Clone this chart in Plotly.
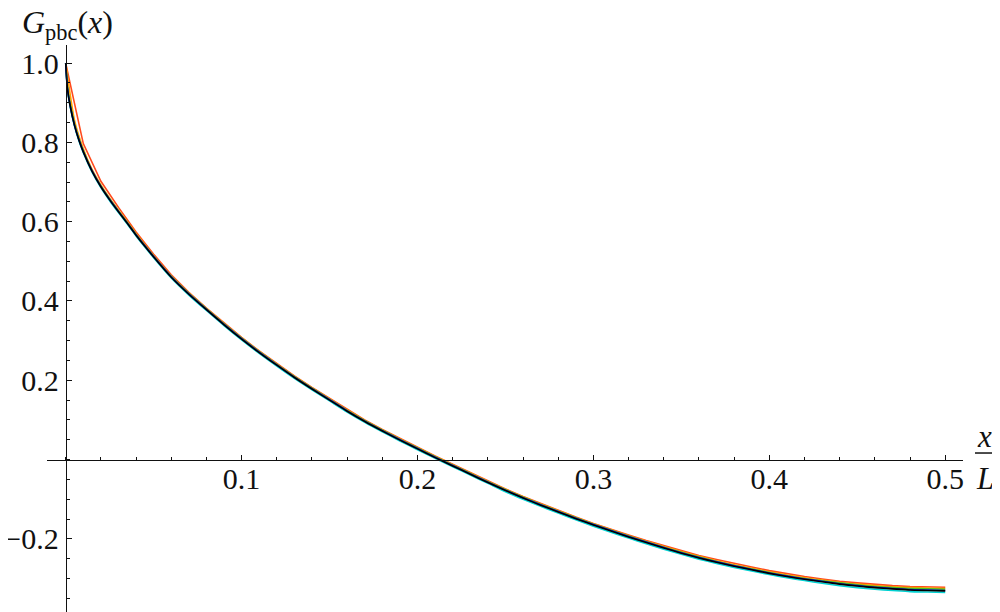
import plotly.graph_objects as go

# sample positions (x/L)
X_FINE = [0.0, 0.001, 0.0025, 0.005, 0.0075, 0.01, 0.015, 0.02, 0.025, 0.03, 0.035, 0.04, 0.045, 0.05,
          0.06, 0.07, 0.08, 0.09, 0.10, 0.11, 0.12, 0.13, 0.14, 0.15, 0.16, 0.17, 0.18, 0.19, 0.20,
          0.21, 0.22, 0.23, 0.24, 0.25, 0.26, 0.27, 0.28, 0.29, 0.30, 0.31, 0.32, 0.33, 0.34, 0.35,
          0.36, 0.37, 0.38, 0.39, 0.40, 0.41, 0.42, 0.43, 0.44, 0.45, 0.46, 0.47, 0.48, 0.49, 0.50]
X_MID = [0.0, 0.005, 0.01, 0.015, 0.02, 0.025, 0.03, 0.035, 0.04, 0.045, 0.05,
         0.06, 0.07, 0.08, 0.09, 0.10, 0.11, 0.12, 0.13, 0.14, 0.15, 0.16, 0.17, 0.18, 0.19, 0.20,
         0.21, 0.22, 0.23, 0.24, 0.25, 0.26, 0.27, 0.28, 0.29, 0.30, 0.31, 0.32, 0.33, 0.34, 0.35,
         0.36, 0.37, 0.38, 0.39, 0.40, 0.41, 0.42, 0.43, 0.44, 0.45, 0.46, 0.47, 0.48, 0.49, 0.50]
X_COARSE = [0.0, 0.01, 0.02, 0.03, 0.04, 0.05,
            0.06, 0.07, 0.08, 0.09, 0.10, 0.11, 0.12, 0.13, 0.14, 0.15, 0.16, 0.17, 0.18, 0.19, 0.20,
            0.21, 0.22, 0.23, 0.24, 0.25, 0.26, 0.27, 0.28, 0.29, 0.30, 0.31, 0.32, 0.33, 0.34, 0.35,
            0.36, 0.37, 0.38, 0.39, 0.40, 0.41, 0.42, 0.43, 0.44, 0.45, 0.46, 0.47, 0.48, 0.49, 0.50]

G_RED = [1.000, 0.797, 0.702, 0.636, 0.574, 0.518,
         0.466, 0.422, 0.382, 0.345, 0.308, 0.274, 0.242, 0.211, 0.182, 0.154, 0.126, 0.100, 0.076, 0.053, 0.031,
         0.009, -0.012, -0.033, -0.054, -0.074, -0.093, -0.111, -0.128, -0.145, -0.161, -0.176, -0.190, -0.204,
         -0.217, -0.230, -0.242, -0.252, -0.262, -0.271, -0.280, -0.288, -0.295, -0.301, -0.307, -0.311, -0.315,
         -0.318, -0.320, -0.321, -0.322]
G_ORANGE = [1.000, 0.856, 0.784, 0.732, 0.693, 0.659, 0.629, 0.600, 0.570, 0.542, 0.514,
            0.463, 0.420, 0.381, 0.343, 0.307, 0.273, 0.241, 0.210, 0.181, 0.153, 0.125, 0.099, 0.075, 0.052, 0.030,
            0.008, -0.013, -0.034, -0.055, -0.075, -0.094, -0.112, -0.129, -0.146, -0.162, -0.177, -0.192, -0.206,
            -0.219, -0.232, -0.244, -0.255, -0.265, -0.274, -0.283, -0.291, -0.298, -0.304, -0.310, -0.314, -0.318,
            -0.321, -0.323, -0.324, -0.325]
G_GREEN = [1.000, 0.940, 0.899, 0.847, 0.809, 0.779, 0.729, 0.690, 0.657, 0.627, 0.598, 0.568, 0.540, 0.513,
           0.462, 0.419, 0.380, 0.342, 0.306, 0.272, 0.240, 0.209, 0.180, 0.152, 0.124, 0.098, 0.074, 0.051, 0.029,
           0.007, -0.014, -0.035, -0.056, -0.076, -0.095, -0.113, -0.130, -0.147, -0.163, -0.178, -0.193, -0.207,
           -0.221, -0.234, -0.246, -0.257, -0.267, -0.276, -0.285, -0.293, -0.300, -0.306, -0.311, -0.316, -0.320,
           -0.323, -0.325, -0.326, -0.327]
G_CYAN = [1.000, 0.933, 0.891, 0.841, 0.804, 0.774, 0.725, 0.686, 0.653, 0.623, 0.594, 0.564, 0.536, 0.509,
          0.458, 0.415, 0.376, 0.338, 0.302, 0.268, 0.236, 0.205, 0.176, 0.148, 0.120, 0.094, 0.070, 0.047, 0.025,
          0.003, -0.018, -0.039, -0.060, -0.081, -0.100, -0.118, -0.135, -0.152, -0.168, -0.183, -0.198, -0.212,
          -0.226, -0.239, -0.251, -0.262, -0.272, -0.281, -0.290, -0.298, -0.305, -0.312, -0.318, -0.323, -0.327,
          -0.330, -0.333, -0.334, -0.335]
G_BLUE = [1.000, 0.936, 0.894, 0.844, 0.807, 0.777, 0.728, 0.689, 0.656, 0.626, 0.597, 0.567, 0.539, 0.512,
          0.461, 0.418, 0.379, 0.341, 0.305, 0.271, 0.239, 0.208, 0.179, 0.151, 0.123, 0.097, 0.073, 0.050, 0.028,
          0.006, -0.015, -0.036, -0.057, -0.077, -0.096, -0.114, -0.131, -0.148, -0.164, -0.179, -0.194, -0.208,
          -0.222, -0.235, -0.247, -0.258, -0.268, -0.277, -0.286, -0.294, -0.301, -0.307, -0.313, -0.318, -0.322,
          -0.325, -0.328, -0.329, -0.330]
G_BLACK = [1.000, 0.935, 0.893, 0.843, 0.806, 0.776, 0.727, 0.688, 0.655, 0.625, 0.596, 0.566, 0.538, 0.511,
           0.460, 0.417, 0.378, 0.340, 0.304, 0.270, 0.238, 0.207, 0.178, 0.150, 0.122, 0.096, 0.072, 0.049, 0.027,
           0.005, -0.016, -0.037, -0.058, -0.078, -0.097, -0.115, -0.132, -0.149, -0.165, -0.180, -0.195, -0.209,
           -0.223, -0.236, -0.248, -0.259, -0.269, -0.278, -0.287, -0.295, -0.302, -0.308, -0.314, -0.319, -0.323,
           -0.326, -0.329, -0.330, -0.331]

X_TICKS = [0.1, 0.2, 0.3, 0.4, 0.5]
X_LABELS = ['0.1', '0.2', '0.3', '0.4', '0.5']
Y_TICKS = [-0.2, 0.2, 0.4, 0.6, 0.8, 1.0]
Y_LABELS = ['\u22120.2', '0.2', '0.4', '0.6', '0.8', '1.0']

XR = [-0.01063, 0.5101]
YR = [-0.3844, 1.0456]

series = [
    (X_COARSE, G_RED, '#ff4a1c', 'linear'),
    (X_MID, G_ORANGE, '#ffa000', 'spline'),
    (X_FINE, G_GREEN, '#4cc21a', 'spline'),
    (X_FINE, G_CYAN, '#00d2d2', 'spline'),
    (X_FINE, G_BLUE, '#0a14e6', 'spline'),
    (X_FINE, G_BLACK, '#000000', 'spline'),
]

fig = go.Figure()
for xs, ys, col, shp in series:
    fig.add_trace(go.Scatter(x=xs, y=ys, mode='lines',
                             line=dict(color=col, width=1.6, shape=shp, smoothing=0.6),
                             showlegend=False, hoverinfo='skip'))

serif = 'Liberation Serif, DejaVu Serif, serif'
# axes crossing at the origin, Mathematica style
# (page body has an 8px margin, so the margins are shifted by that much)
fig.update_layout(
    width=1000, height=612,
    plot_bgcolor='white', paper_bgcolor='white',
    margin=dict(l=39, r=45, t=37, b=8),
    showlegend=False,
    xaxis=dict(range=XR, showgrid=False, zeroline=False, showline=True, linecolor='#111', linewidth=1,
               anchor='free', position=(0 - YR[0]) / (YR[1] - YR[0]), automargin=False,
               tickmode='array', tickvals=X_TICKS, ticktext=X_LABELS,
               ticks='inside', ticklen=5, tickwidth=1, tickcolor='#111', ticklabelstandoff=-8,
               minor=dict(tickmode='linear', tick0=0, dtick=0.02, ticks='inside', ticklen=3,
                          tickwidth=1, tickcolor='#111'),
               tickfont=dict(family=serif, size=30, color='#111')),
    yaxis=dict(range=YR, showgrid=False, zeroline=False, showline=True, linecolor='#111', linewidth=1,
               anchor='free', position=(0 - XR[0]) / (XR[1] - XR[0]), automargin=False,
               tickmode='array', tickvals=Y_TICKS, ticktext=Y_LABELS,
               ticks='inside', ticklen=5, tickwidth=1, tickcolor='#111', ticklabelstandoff=1,
               minor=dict(tickmode='linear', tick0=0, dtick=0.05, ticks='inside', ticklen=3,
                          tickwidth=1, tickcolor='#111'),
               tickfont=dict(family=serif, size=30, color='#111')),
)

fig.add_annotation(xref='paper', yref='paper', x=-0.0295, y=1.036, xanchor='left', yanchor='middle',
                   text='<i>G</i><sub>pbc</sub>(<i>x</i>)', showarrow=False,
                   font=dict(family=serif, size=32, color='#111'))
fig.add_annotation(xref='paper', yref='paper', x=1.024, y=0.309, xanchor='center', yanchor='middle',
                   text='<i>x</i>', showarrow=False, font=dict(family=serif, size=31, color='#111'))
fig.add_annotation(xref='paper', yref='paper', x=1.024, y=0.236, xanchor='center', yanchor='middle',
                   text='<i>L</i>', showarrow=False, font=dict(family=serif, size=31, color='#111'))
fig.add_shape(type='line', xref='paper', yref='paper', x0=1.0131, x1=1.0338, y0=0.2804, y1=0.2804,
              line=dict(color='#111', width=1.5))

fig.write_html("out.html")
